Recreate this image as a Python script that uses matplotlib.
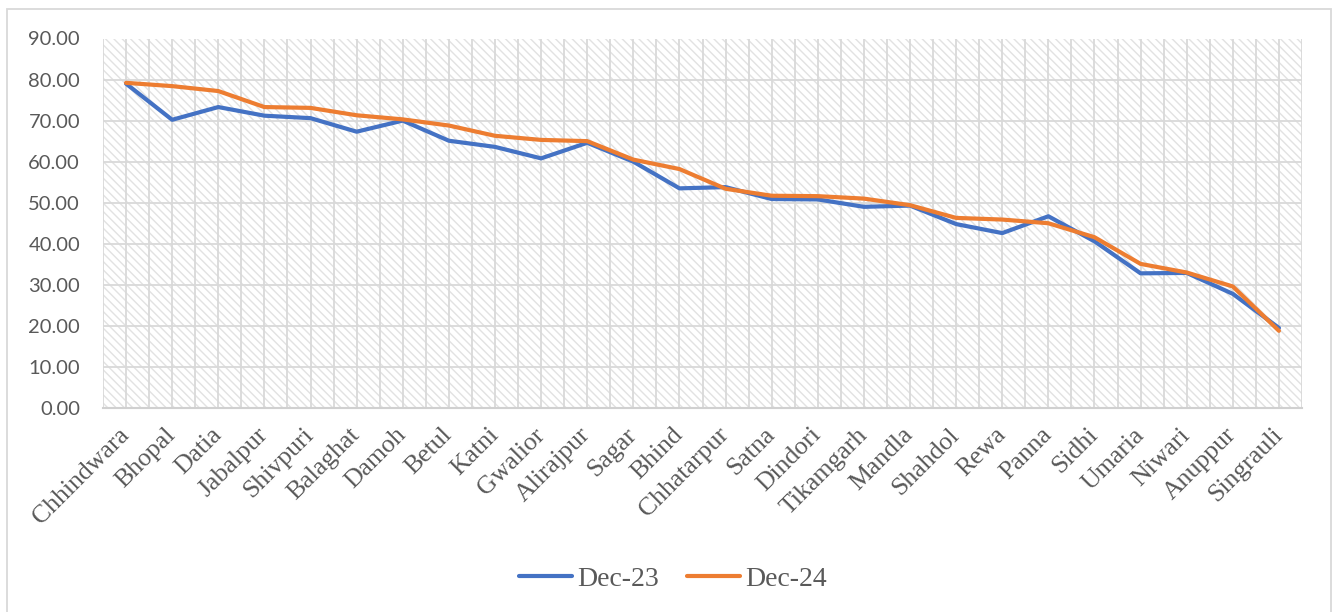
import matplotlib
matplotlib.use("Agg")
import matplotlib.pyplot as plt
from matplotlib.patches import Rectangle
from matplotlib.ticker import MultipleLocator, FixedLocator, FuncFormatter

districts = ["Chhindwara", "Bhopal", "Datia", "Jabalpur", "Shivpuri", "Balaghat",
             "Damoh", "Betul", "Katni", "Gwalior", "Alirajpur", "Sagar", "Bhind",
             "Chhatarpur", "Satna", "Dindori", "Tikamgarh", "Mandla", "Shahdol",
             "Rewa", "Panna", "Sidhi", "Umaria", "Niwari", "Anuppur", "Singrauli"]
dec23 = [79.0, 70.2, 73.3, 71.2, 70.6, 67.3, 70.0, 65.1, 63.6, 60.8, 64.6, 60.0, 53.5,
         53.8, 50.9, 50.8, 49.0, 49.3, 44.8, 42.6, 46.7, 40.6, 32.8, 32.9, 27.8, 19.5]
dec24 = [79.2, 78.4, 77.2, 73.3, 73.1, 71.3, 70.3, 68.8, 66.3, 65.3, 65.0, 60.5, 58.2,
         53.4, 51.7, 51.6, 51.0, 49.4, 46.3, 45.9, 45.0, 41.6, 35.1, 33.0, 29.6, 18.8]
series_names = ["Dec-23", "Dec-24"]

W, H = 1338, 612
plt.rcParams["hatch.linewidth"] = 1.0
fig = plt.figure(figsize=(W / 100, H / 100), dpi=100)
fig.patch.set_facecolor("white")

# outer chart border
fig.add_artist(Rectangle((7 / W, -0.02), (1331 - 7) / W, 1.02 - 9 / H,
                         transform=fig.transFigure, fill=False,
                         edgecolor="#d9d9d9", linewidth=1.3))

ax = fig.add_axes([103 / W, 1 - 408 / H, (1302 - 103) / W, (408 - 38.5) / H])

x = list(range(len(districts)))
ax.set_xlim(-0.5, len(districts) - 0.5)
ax.set_ylim(0, 90)

# hatched plot area
ax.add_patch(Rectangle((0, 0), 1, 1, transform=ax.transAxes, facecolor="white",
                       edgecolor="#e2e2e2", linewidth=0, hatch="\\\\\\\\", zorder=0.1))

ax.set_axisbelow(True)
ax.yaxis.set_major_locator(MultipleLocator(10))
ax.yaxis.set_major_formatter(FuncFormatter(lambda v, p: f"{v:.2f}"))
ax.xaxis.set_major_locator(FixedLocator(x))
ax.xaxis.set_minor_locator(FixedLocator([i - 0.5 for i in range(len(districts) + 1)]))
ax.set_xticklabels(districts)

ax.grid(True, which="major", axis="both", color="#d9d9d9", linewidth=1.3)
ax.grid(True, which="minor", axis="x", color="#d9d9d9", linewidth=1.3)

for s in ["top", "right", "left"]:
    ax.spines[s].set_visible(False)
ax.spines["bottom"].set_color("#d0d0d0")
ax.spines["bottom"].set_linewidth(1.5)

ax.tick_params(axis="both", which="both", length=0)
ax.tick_params(axis="y", pad=16.5, labelcolor="#595959")
for lbl in ax.get_yticklabels():
    lbl.set_fontfamily("Lato")
    lbl.set_fontsize(14.5)

ax.tick_params(axis="x", pad=17, labelcolor="#595959")
for lbl in ax.get_xticklabels():
    lbl.set_fontfamily("Liberation Serif")
    lbl.set_fontsize(18.5)
    lbl.set_rotation(45)
    lbl.set_ha("right")
    lbl.set_va("center")
    lbl.set_rotation_mode("anchor")

ax.plot(x, dec23, color="#4472C4", linewidth=3.0, label=series_names[0],
        solid_joinstyle="round", solid_capstyle="round", zorder=3)
ax.plot(x, dec24, color="#ED7D31", linewidth=3.0, label=series_names[1],
        solid_joinstyle="round", solid_capstyle="round", zorder=4)

leg = fig.legend(loc="center", bbox_to_anchor=(0.503, 1 - 579 / H), ncol=2,
                 frameon=False, handlelength=1.9, handletextpad=0.2,
                 columnspacing=1.0, prop={"family": "Liberation Serif", "size": 20})
for t in leg.get_texts():
    t.set_color("#595959")

fig.savefig("out.png", dpi=100)
